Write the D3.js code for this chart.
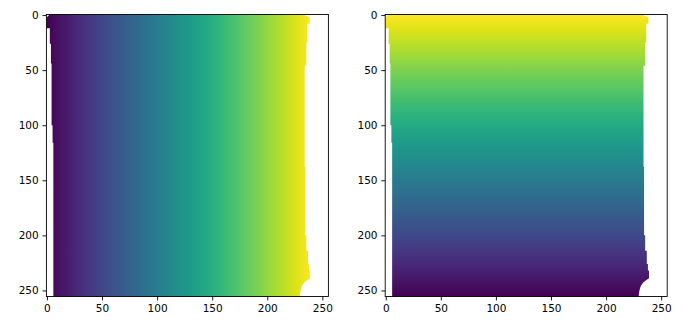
<!DOCTYPE html>
<html>
<head>
<meta charset="utf-8">
<script src="https://cdn.jsdelivr.net/npm/d3@7"></script>
<style>
  body { margin: 0; background: #fff; }
  svg { display: block; }
  .tick text { font-family: "DejaVu Sans", sans-serif; font-size: 10.5px; fill: #000; }
  .tick line { stroke: #000; stroke-width: 0.9; }
</style>
</head>
<body>
<svg id="fig" width="683" height="330"></svg>
<script>
// image is 256 x 256 pixels, ticks every 50
var imageSize = 256;
var tickValues = [0, 50, 100, 150, 200, 250];

// mask outline (row, column of edge)
var leftEdgeRows = [-0.5, 1, 2.5, 12, 12, 26, 26, 44, 44, 100, 100, 116, 116, 255.5];
var leftEdgeCols = [2.5, 0.8, -0.3, -0.3, 2.6, 2.6, 3.6, 3.6, 4.2, 4.2, 5.1, 5.1, 5.8, 5.8];
var rightEdgeRows = [-0.5, 1, 2, 8, 8, 25, 25, 46, 46, 138, 138, 200, 200, 214, 214, 226, 226, 232, 232, 239, 241, 243, 246, 250, 255.5];
var rightEdgeCols = [233, 236, 238.5, 238.5, 236.5, 236.5, 235.5, 235.5, 234, 234, 234.5, 234.5, 235.5, 235.5, 237, 237, 238, 238, 239, 239, 236, 233.5, 231.5, 230.3, 229.5];

// colour limits: left image = column index, right image = flipped row index
var colValueLimits = [0, 239];
var rowValueLimits = [0, 255];

var svg = d3.select("#fig");
var panels = [
  { x0: 46.4, x1: 328.4, dir: "col" },
  { x0: 385.2, x1: 667.2, dir: "row" }
];
var plotTop = 14.5, plotBottom = 296.5;

var outline = [];
leftEdgeRows.forEach(function(r, i) { outline.push([leftEdgeCols[i], r]); });
for (var i = rightEdgeRows.length - 1; i >= 0; i--) {
  outline.push([rightEdgeCols[i], rightEdgeRows[i]]);
}

var defs = svg.append("defs");

panels.forEach(function(p, k) {
  var xScale = d3.scaleLinear().domain([-0.5, imageSize - 0.5]).range([p.x0, p.x1]);
  var yScale = d3.scaleLinear().domain([-0.5, imageSize - 0.5]).range([plotTop, plotBottom]);

  // viridis gradient along the image's value direction
  var grad = defs.append("linearGradient")
    .attr("id", "grad" + k)
    .attr("gradientUnits", "userSpaceOnUse");
  if (p.dir == "col") {
    grad.attr("x1", xScale(colValueLimits[0])).attr("x2", xScale(colValueLimits[1]))
        .attr("y1", 0).attr("y2", 0);
  } else {
    // value = 255 - row, so yellow on top
    grad.attr("x1", 0).attr("x2", 0)
        .attr("y1", yScale(imageSize - 1 - rowValueLimits[0]))
        .attr("y2", yScale(imageSize - 1 - rowValueLimits[1]));
  }
  d3.range(0, 1.0001, 0.05).forEach(function(t) {
    grad.append("stop")
      .attr("offset", t)
      .attr("stop-color", d3.interpolateViridis(t));
  });

  var g = svg.append("g");

  g.append("path")
    .datum(outline)
    .attr("d", d3.line()
      .x(function(d) { return xScale(d[0]); })
      .y(function(d) { return yScale(d[1]); }))
    .attr("fill", "url(#grad" + k + ")");

  g.append("g")
    .attr("transform", "translate(0," + plotBottom + ")")
    .call(d3.axisBottom(xScale).tickValues(tickValues).tickSize(3.9).tickPadding(3.8).tickSizeOuter(0))
    .call(function(a) { a.select(".domain").remove(); });

  g.append("g")
    .attr("transform", "translate(" + p.x0 + ",0)")
    .call(d3.axisLeft(yScale).tickValues(tickValues).tickSize(3.9).tickPadding(3.8).tickSizeOuter(0))
    .call(function(a) { a.select(".domain").remove(); });

  g.append("rect")
    .attr("x", p.x0).attr("y", plotTop)
    .attr("width", p.x1 - p.x0).attr("height", plotBottom - plotTop)
    .attr("fill", "none")
    .attr("stroke", "#000")
    .attr("stroke-width", 0.9);
});
</script>
</body>
</html>
